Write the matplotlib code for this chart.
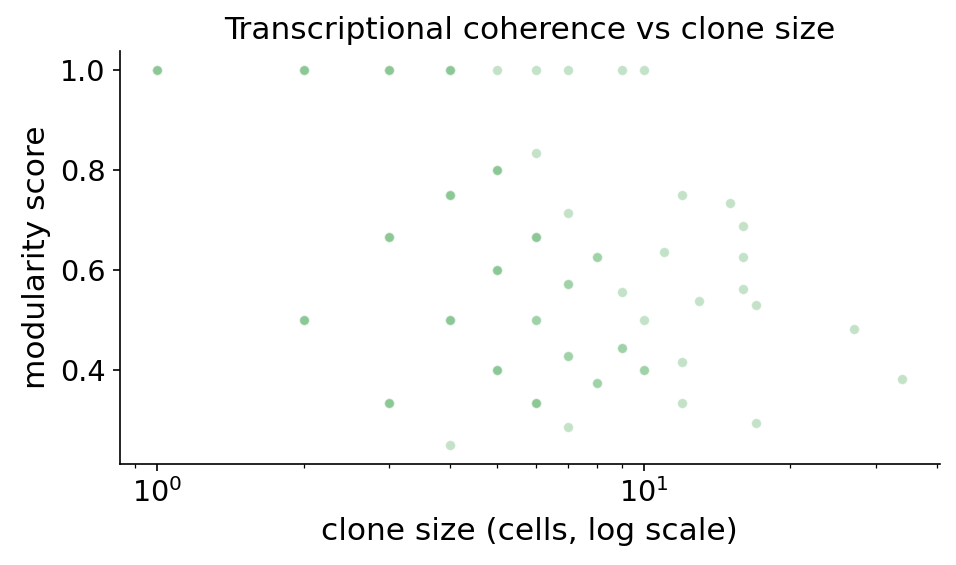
import numpy as np
import matplotlib
matplotlib.use('Agg')
import matplotlib.pyplot as plt

# clone size, modularity score, and how many clones sit on the same spot
clone_size = [1,
              2, 2,
              3, 3, 3,
              4, 4, 4, 4,
              5, 5, 5, 5,
              6, 6, 6, 6, 6,
              7, 7, 7, 7, 7,
              8, 8,
              9, 9, 9,
              10, 10, 10,
              11,
              12, 12, 12,
              13,
              15,
              16, 16, 16,
              17, 17,
              27,
              34]
modularity = [1.0,
              1.0, 0.5,
              1.0, 2/3, 1/3,
              1.0, 0.75, 0.5, 0.25,
              1.0, 0.8, 0.6, 0.4,
              1.0, 5/6, 4/6, 0.5, 2/6,
              1.0, 5/7, 4/7, 3/7, 2/7,
              5/8, 3/8,
              1.0, 5/9, 4/9,
              1.0, 0.5, 0.4,
              7/11,
              9/12, 5/12, 4/12,
              7/13,
              11/15,
              11/16, 10/16, 9/16,
              9/17, 5/17,
              13/27,
              13/34]
n_clones = [3,
            3, 3,
            3, 3, 3,
            3, 3, 3, 1,
            1, 3, 3, 3,
            1, 1, 3, 2, 3,
            1, 1, 2, 2, 1,
            2, 2,
            1, 1, 2,
            1, 1, 2,
            1,
            1, 1, 1,
            1,
            1,
            1, 1, 1,
            1, 1,
            1,
            1]

x = np.repeat(clone_size, n_clones)
y = np.repeat(modularity, n_clones)

fig = plt.figure(figsize=(956/150, 565/150), dpi=150)
ax = fig.add_subplot(111)
fig.subplots_adjust(left=0.1255, right=0.983, top=0.9097, bottom=0.179)

ax.scatter(x, y, s=22, color='#70bc7c', alpha=0.42, edgecolor='white', linewidth=0.5)
ax.set_xscale('log')

ax.set_title('Transcriptional coherence vs clone size', fontsize=15)
ax.set_xlabel('clone size (cells, log scale)', fontsize=15)
ax.set_ylabel('modularity score', fontsize=15)
ax.tick_params(labelsize=13.75)
ax.set_yticks([0.4, 0.6, 0.8, 1.0])
ax.spines['top'].set_visible(False)
ax.spines['right'].set_visible(False)

fig.savefig('out.png', dpi=150)
